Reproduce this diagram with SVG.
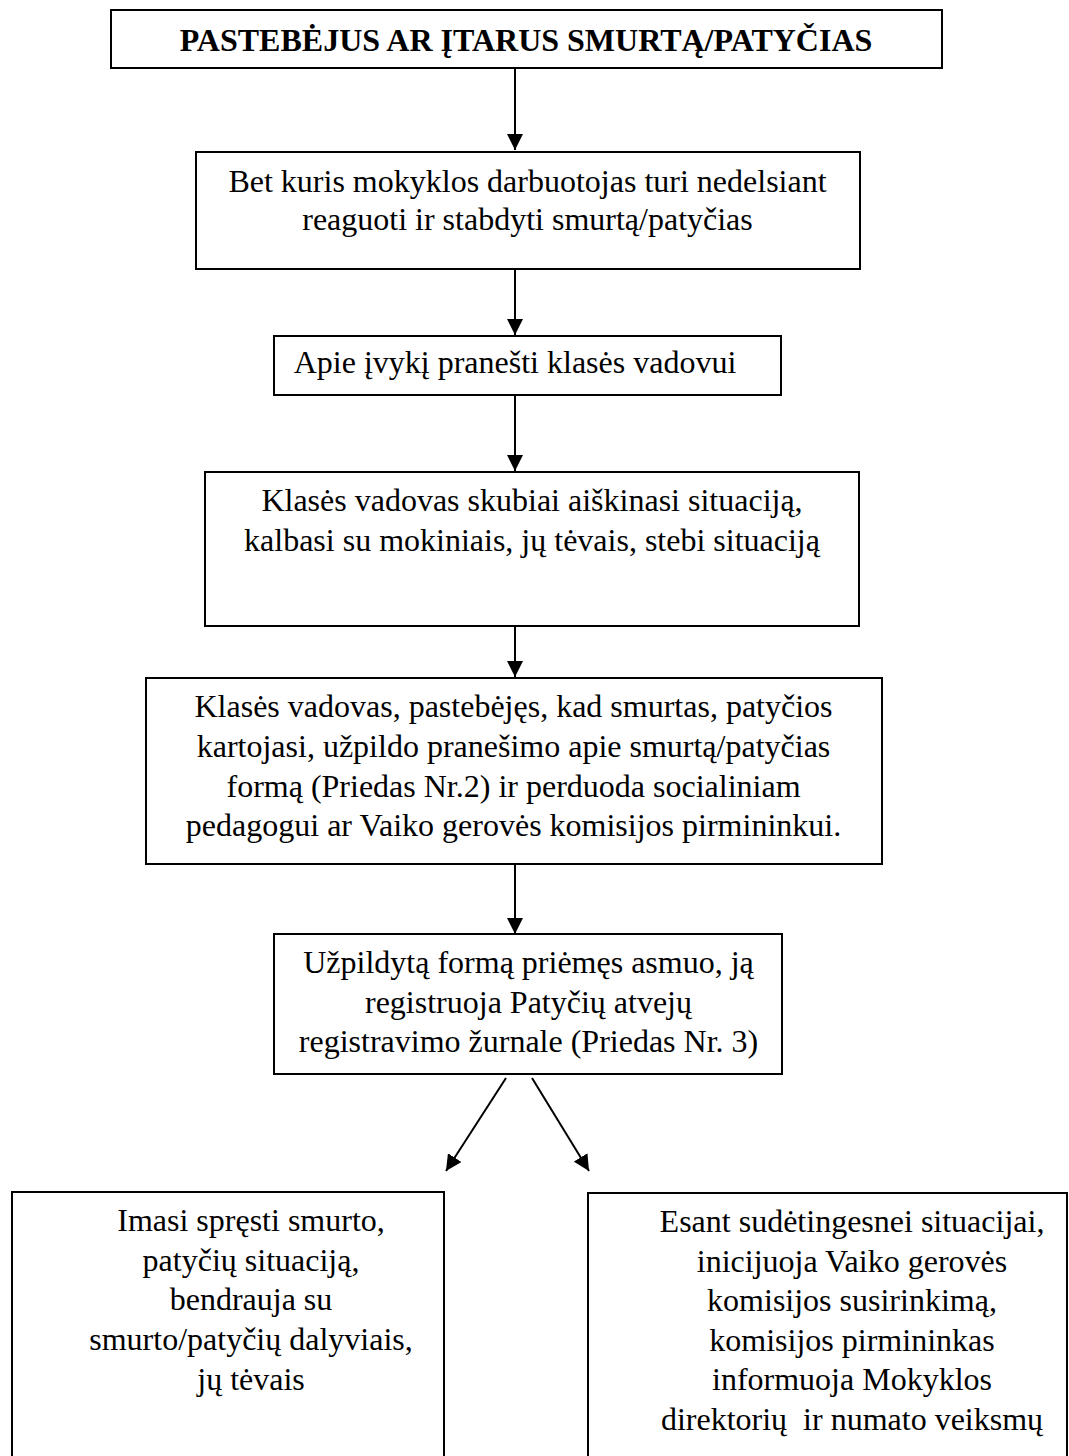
<svg xmlns="http://www.w3.org/2000/svg" width="1069" height="1456" viewBox="0 0 1069 1456">
<style>
.box{fill:#fff;stroke:#000;stroke-width:2}
.t{font-family:"Liberation Serif","Times New Roman",serif;font-size:32px;fill:#000;text-anchor:middle}
.b{font-weight:bold}
.c{stroke:#000;stroke-width:2;fill:none}
</style>
<defs>
<marker id="ah" markerUnits="userSpaceOnUse" markerWidth="16" markerHeight="16" viewBox="0 0 16 16" refX="16" refY="8" orient="auto">
<path d="M0,0 L16,8 L0,16 Z" fill="#000"/>
</marker>
</defs>
<rect width="1069" height="1456" fill="#fff"/>
<g id="connectors">
<line class="c" x1="515" y1="69" x2="515" y2="150" marker-end="url(#ah)"/>
<line class="c" x1="515" y1="267" x2="515" y2="335" marker-end="url(#ah)"/>
<line class="c" x1="515" y1="395" x2="515" y2="471" marker-end="url(#ah)"/>
<line class="c" x1="515" y1="606" x2="515" y2="677" marker-end="url(#ah)"/>
<line class="c" x1="515" y1="865" x2="515" y2="934" marker-end="url(#ah)"/>
<line class="c" x1="506" y1="1078" x2="446" y2="1171" marker-end="url(#ah)"/>
<line class="c" x1="532" y1="1078" x2="589" y2="1171" marker-end="url(#ah)"/>
</g>
<g id="n1">
<rect class="box" x="111" y="10" width="831" height="58"/>
<text class="t b" x="526" y="50.5">PASTEBĖJUS AR ĮTARUS SMURTĄ/PATYČIAS</text>
</g>
<g id="n2">
<rect class="box" x="196" y="152" width="664" height="117"/>
<text class="t" x="527.5" y="191.5">Bet kuris mokyklos darbuotojas turi nedelsiant</text>
<text class="t" x="527.5" y="230">reaguoti ir stabdyti smurtą/patyčias</text>
</g>
<g id="n3">
<rect class="box" x="274" y="336" width="507" height="59"/>
<text class="t" x="515" y="373">Apie įvykį pranešti klasės vadovui</text>
</g>
<g id="n4">
<rect class="box" x="205" y="472" width="654" height="154"/>
<text class="t" x="532" y="510.5">Klasės vadovas skubiai aiškinasi situaciją,</text>
<text class="t" x="532" y="550.5">kalbasi su mokiniais, jų tėvais, stebi situaciją</text>
</g>
<g id="n5">
<rect class="box" x="146" y="678" width="736" height="186"/>
<text class="t" x="513.5" y="717">Klasės vadovas, pastebėjęs, kad smurtas, patyčios</text>
<text class="t" x="513.5" y="757">kartojasi, užpildo pranešimo apie smurtą/patyčias</text>
<text class="t" x="513.5" y="796.5">formą (Priedas Nr.2) ir perduoda socialiniam</text>
<text class="t" x="513.5" y="836">pedagogui ar Vaiko gerovės komisijos pirmininkui.</text>
</g>
<g id="n6">
<rect class="box" x="274" y="934" width="508" height="140"/>
<text class="t" x="528.5" y="973">Užpildytą formą priėmęs asmuo, ją</text>
<text class="t" x="528.5" y="1012.5">registruoja Patyčių atvejų</text>
<text class="t" x="528.5" y="1051.5">registravimo žurnale (Priedas Nr. 3)</text>
</g>
<g id="n7">
<rect class="box" x="12" y="1192" width="432" height="300"/>
<text class="t" x="251" y="1231">Imasi spręsti smurto,</text>
<text class="t" x="251" y="1270.5">patyčių situaciją,</text>
<text class="t" x="251" y="1310">bendrauja su</text>
<text class="t" x="251" y="1350">smurto/patyčių dalyviais,</text>
<text class="t" x="251" y="1389.5">jų tėvais</text>
</g>
<g id="n8">
<rect class="box" x="588" y="1193" width="479" height="300"/>
<text class="t" x="852" y="1232">Esant sudėtingesnei situacijai,</text>
<text class="t" x="852" y="1271.5">inicijuoja Vaiko gerovės</text>
<text class="t" x="852" y="1311">komisijos susirinkimą,</text>
<text class="t" x="852" y="1350.5">komisijos pirmininkas</text>
<text class="t" x="852" y="1390">informuoja Mokyklos</text>
<text class="t" x="852" y="1429.5" xml:space="preserve">direktorių  ir numato veiksmų</text>
</g>
</svg>
